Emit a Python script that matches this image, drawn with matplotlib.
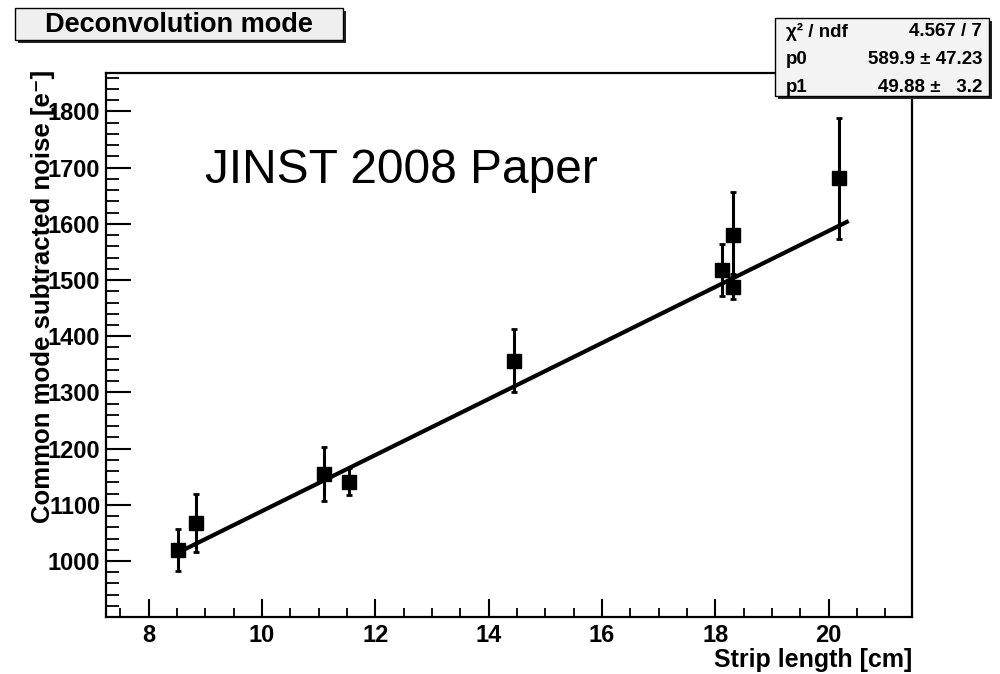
import matplotlib
matplotlib.use("Agg")
import matplotlib.pyplot as plt
from matplotlib.patches import Rectangle
from matplotlib.ticker import MultipleLocator
import numpy as np

# Measured noise versus strip length
strip_length = [8.52, 8.84, 11.09, 11.54, 14.44, 18.11, 18.32, 18.32, 20.19]
noise = [1020, 1068, 1154, 1141, 1356, 1518, 1488, 1581, 1681]
noise_err = [37, 52, 48, 24, 56, 47, 22, 76, 108]

# Linear fit result p0 + p1 * x
p0, p0_err = 589.9, 47.23
p1, p1_err = 49.88, 3.2
chi2_text, ndf_text = "4.567", "7"
fit_range = [8.52, 20.32]

xticks = [8, 10, 12, 14, 16, 18, 20]
yticks = [1000, 1100, 1200, 1300, 1400, 1500, 1600, 1700, 1800]

W, H = 1000, 674
fig = plt.figure(figsize=(W / 100, H / 100), dpi=100)
FONT = "Liberation Sans"


def fx(px):
    return px / W


def fy(py):
    return 1 - py / H


ax = fig.add_axes([fx(106), fy(617), fx(912) - fx(106), fy(73) - fy(617)])
ax.set_xlim(7.25, 21.47)
ax.set_ylim(900.3, 1868.5)

# data points with error bars
ax.errorbar(strip_length, noise, yerr=noise_err, fmt="s", color="black",
            markersize=9.5, elinewidth=2.2, capsize=2.5, capthick=2, zorder=3)

# fitted straight line
xf = np.array(fit_range)
ax.plot(xf, p0 + p1 * xf, color="black", lw=3, zorder=4)

# axes styling
for s in ax.spines.values():
    s.set_linewidth(1.6)
ax.xaxis.set_major_locator(MultipleLocator(2))
ax.xaxis.set_minor_locator(MultipleLocator(0.5))
ax.yaxis.set_major_locator(MultipleLocator(100))
ax.yaxis.set_minor_locator(MultipleLocator(20))
ax.set_xticks(xticks)
ax.set_yticks(yticks)
ax.tick_params(axis="x", which="major", direction="in", length=13, width=1.5,
               top=False, pad=5)
ax.tick_params(axis="x", which="minor", direction="in", length=6.5, width=1.3,
               top=False)
ax.tick_params(axis="y", which="major", direction="in", length=18, width=1.5,
               right=False, pad=4)
ax.tick_params(axis="y", which="minor", direction="in", length=9, width=1.3,
               right=False)
for lab in ax.get_xticklabels() + ax.get_yticklabels():
    lab.set_fontfamily(FONT)
    lab.set_fontweight("bold")
    lab.set_fontsize(17)

# axis titles
fig.text(fx(912), fy(660), "Strip length [cm]", ha="right", va="center",
         fontsize=18, fontweight="bold", family=FONT)
fig.text(fx(43), fy(70), "Common mode subtracted noise [e\u207b]", rotation=90,
         ha="center", va="top", fontsize=18.5, fontweight="bold",
         family=[FONT, "DejaVu Sans"])

# annotation inside the frame
ax.text(0.123, 0.82, "JINST 2008 Paper", transform=ax.transAxes,
        ha="left", va="center", fontsize=34.5, family=FONT)


def pave(x0, y0, x1, y1, face):
    sh = 3
    fig.add_artist(Rectangle((fx(x0 + sh), fy(y1 + sh)), fx(x1 - x0), fy(y0) - fy(y1),
                             transform=fig.transFigure, facecolor="#222222",
                             edgecolor="none", zorder=10))
    fig.add_artist(Rectangle((fx(x0), fy(y1)), fx(x1 - x0), fy(y0) - fy(y1),
                             transform=fig.transFigure, facecolor=face,
                             edgecolor="black", lw=1.0, zorder=11))


# title box
pave(15, 8, 343, 40, "#efefef")
fig.text(fx(179), fy(25), "Deconvolution mode", ha="center", va="center",
         fontsize=19.5, fontweight="bold", family=FONT, zorder=12)

# fit statistics box
pave(775, 18, 989, 96, "#f3f3f3")
rows = [
    ("\u03c7\u00b2 / ndf", f"{chi2_text} / {ndf_text}"),
    ("p0", f"{p0} \u00b1 {p0_err}"),
    ("p1", f"{p1} \u00b1   {p1_err}"),
]
for i, (k, v) in enumerate(rows):
    yy = fy(32 + 27.5 * i)
    fig.text(fx(786), yy, k, ha="left", va="center", fontsize=13.5,
             fontweight="bold", family=FONT, zorder=12)
    fig.text(fx(982), yy, v, ha="right", va="center", fontsize=13.5,
             fontweight="bold", family=FONT, zorder=12)

fig.savefig("out.png", dpi=100, facecolor="white")
